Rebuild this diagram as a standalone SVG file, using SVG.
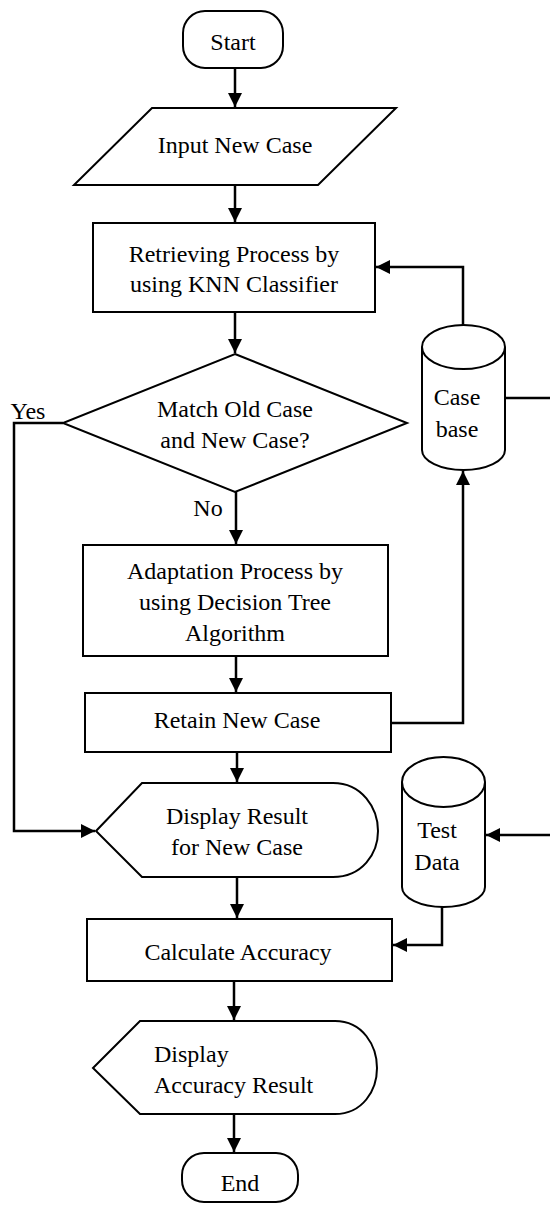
<svg xmlns="http://www.w3.org/2000/svg" width="550" height="1210" viewBox="0 0 550 1210">
<style>
.s{fill:#fff;stroke:#000;stroke-width:2}
.t{font-family:'Liberation Serif',serif;font-size:24px;fill:#000;text-anchor:middle}
.l{text-anchor:start}
.c{fill:none;stroke:#000;stroke-width:2.5}
</style>
<defs>
<marker id="ah" markerUnits="userSpaceOnUse" markerWidth="14" markerHeight="14" refX="14" refY="7" orient="auto">
<path d="M0,0 L14,7 L0,14 z" fill="#000"/>
</marker>
</defs>
<rect width="550" height="1210" fill="#fff"/>
<g id="connectors">
<path class="c" d="M235,68 V107" marker-end="url(#ah)"/>
<path class="c" d="M235,185 V222" marker-end="url(#ah)"/>
<path class="c" d="M235,312 V353" marker-end="url(#ah)"/>
<path class="c" d="M236,492 V544" marker-end="url(#ah)"/>
<path class="c" d="M236,656 V692" marker-end="url(#ah)"/>
<path class="c" d="M237,752 V782" marker-end="url(#ah)"/>
<path class="c" d="M63,423 H14 V831 H95" marker-end="url(#ah)"/>
<path class="c" d="M463,325 V267 H376" marker-end="url(#ah)"/>
<path class="c" d="M391,723 H463 V471" marker-end="url(#ah)"/>
<path class="c" d="M505,398 H550"/>
<path class="c" d="M550,835 H486" marker-end="url(#ah)"/>
<path class="c" d="M442,907 V945 H393" marker-end="url(#ah)"/>
<path class="c" d="M237,877 V918" marker-end="url(#ah)"/>
<path class="c" d="M234,981 V1020" marker-end="url(#ah)"/>
<path class="c" d="M234,1114 V1152" marker-end="url(#ah)"/>
<text class="t" x="28" y="419">Yes</text>
<text class="t" x="208" y="516">No</text>
</g>
<g id="start">
<rect class="s" x="183" y="11" width="100" height="57" rx="22" ry="22"/>
<text class="t" x="233" y="50">Start</text>
</g>
<g id="input">
<path class="s" d="M152,108 H396 L318,185 H74 Z"/>
<text class="t" x="235" y="153">Input New Case</text>
</g>
<g id="retrieve">
<rect class="s" x="93" y="223" width="282" height="89"/>
<text class="t" x="234" y="262">Retrieving Process by</text>
<text class="t" x="234" y="292">using KNN Classifier</text>
</g>
<g id="decision">
<path class="s" d="M235,354 L407,423 L235,492 L63,423 Z"/>
<text class="t" x="235" y="417">Match Old Case</text>
<text class="t" x="235" y="448">and New Case?</text>
</g>
<g id="casebase">
<path class="s" d="M422,347 V450 A41.5,20 0 0 0 505,450 V347"/>
<ellipse class="s" cx="463.5" cy="347" rx="41.5" ry="22"/>
<text class="t" x="457" y="405">Case</text>
<text class="t" x="457" y="437">base</text>
</g>
<g id="adapt">
<rect class="s" x="83" y="545" width="305" height="111"/>
<text class="t" x="235" y="579">Adaptation Process by</text>
<text class="t" x="235" y="610">using Decision Tree</text>
<text class="t" x="235" y="641">Algorithm</text>
</g>
<g id="retain">
<rect class="s" x="85" y="693" width="306" height="59"/>
<text class="t" x="237" y="728">Retain New Case</text>
</g>
<g id="display1">
<path class="s" d="M96,831 L142,783 H333 C362,783 378,808 378,831 C378,854 362,877 333,877 H142 Z"/>
<text class="t" x="237" y="824">Display Result</text>
<text class="t" x="237" y="855">for New Case</text>
</g>
<g id="testdata">
<path class="s" d="M402,782 V887 A41.5,20 0 0 0 485,887 V782"/>
<ellipse class="s" cx="443.5" cy="782" rx="41.5" ry="25"/>
<text class="t" x="437" y="838">Test</text>
<text class="t" x="437" y="870">Data</text>
</g>
<g id="calc">
<rect class="s" x="87" y="919" width="305" height="62"/>
<text class="t" x="238" y="960">Calculate Accuracy</text>
</g>
<g id="display2">
<path class="s" d="M93,1068 L140,1021 H335 C363,1021 377,1046 377,1068 C377,1090 363,1114 335,1114 H140 Z"/>
<text class="t l" x="154" y="1062">Display</text>
<text class="t l" x="154" y="1093">Accuracy Result</text>
</g>
<g id="end">
<rect class="s" x="182" y="1153" width="116" height="49" rx="22" ry="22"/>
<text class="t" x="240" y="1191">End</text>
</g>
</svg>
